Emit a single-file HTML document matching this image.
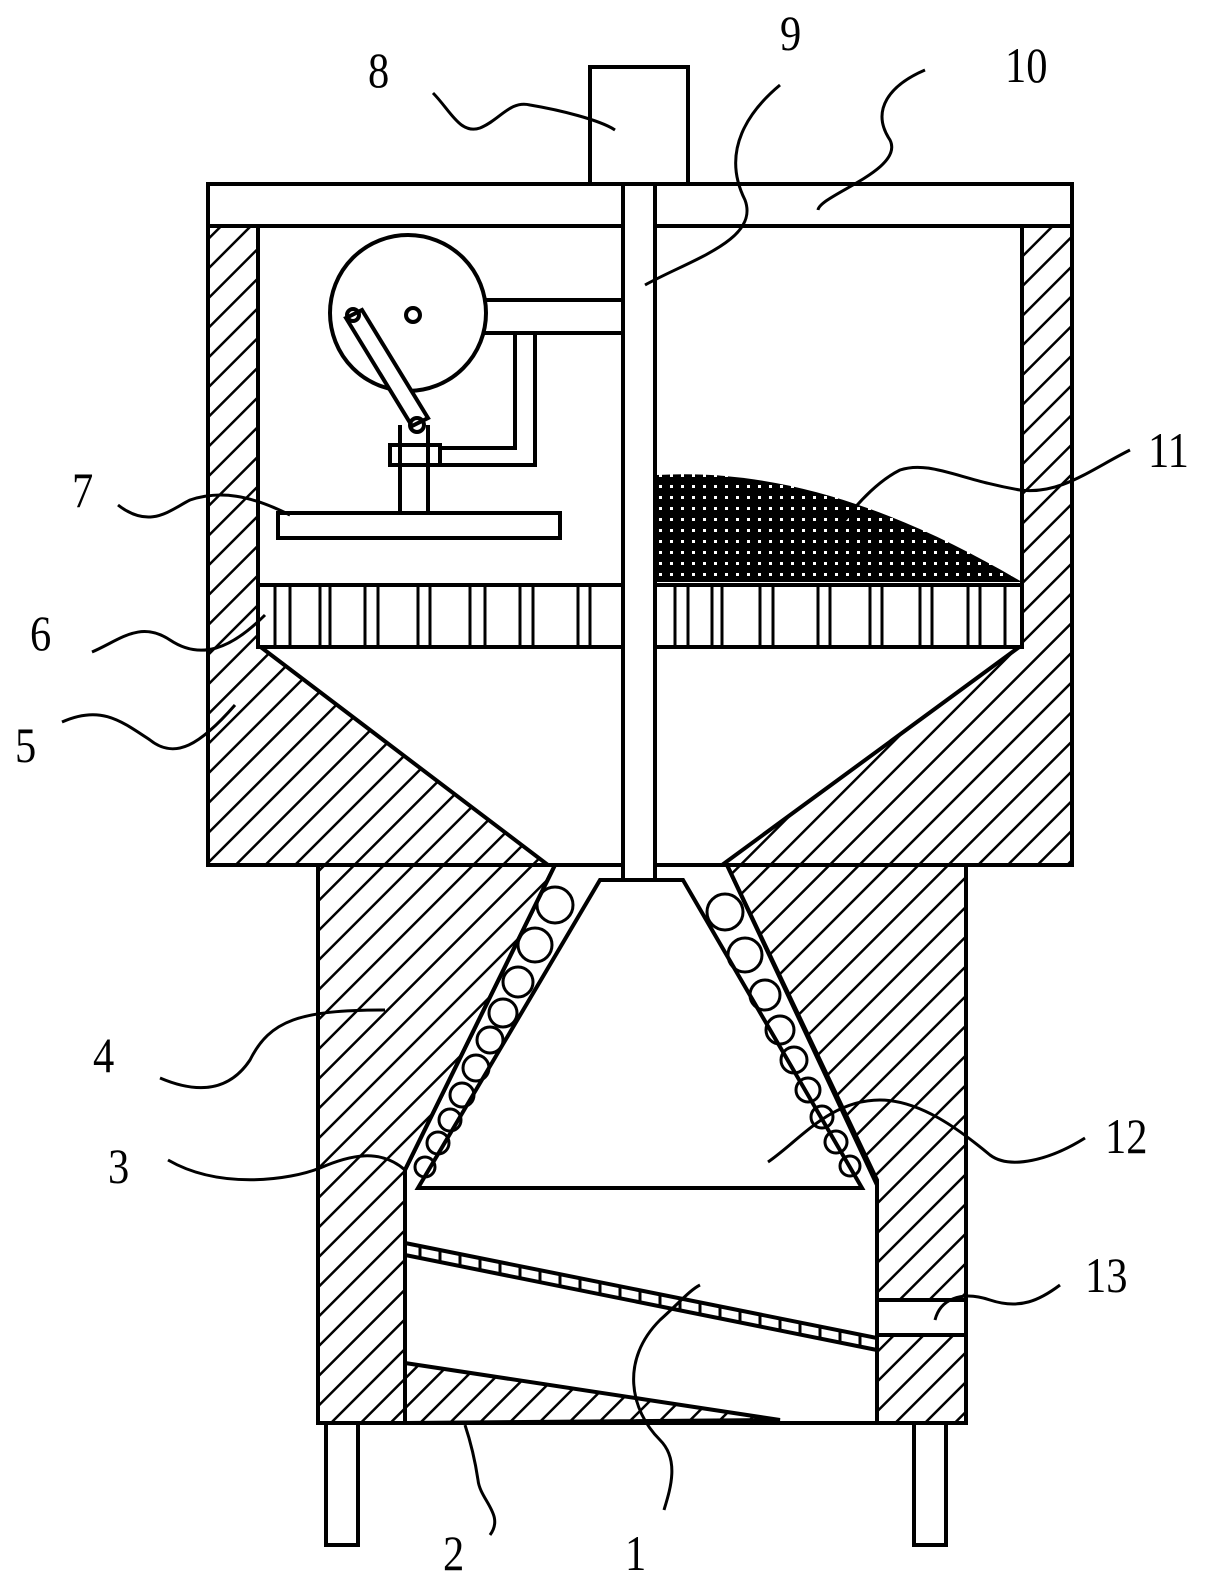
<!DOCTYPE html>
<html><head><meta charset="utf-8"><style>
html,body{margin:0;padding:0;background:#fff}
svg{display:block}
text{font-family:"Liberation Serif",serif;font-size:50px;fill:#000}
</style></head><body>
<svg width="1217" height="1578" viewBox="0 0 1217 1578" xmlns="http://www.w3.org/2000/svg">
<defs>
<pattern id="h" patternUnits="userSpaceOnUse" width="21" height="21" patternTransform="rotate(45)">
<rect width="21" height="21" fill="#fff"/><line x1="0" y1="0" x2="0" y2="21" stroke="#000" stroke-width="5"/>
</pattern>
<pattern id="g" patternUnits="userSpaceOnUse" width="11" height="11" x="655" y="470">
<rect width="11" height="11" fill="#000"/><rect x="4" y="4" width="3" height="3" fill="#fff"/>
</pattern>
</defs>
<g stroke="#000" stroke-width="4" fill="none">
<rect x="590" y="67" width="98" height="117" fill="#fff"/>
<rect x="208" y="184" width="864" height="42" fill="#fff"/>
<polygon points="208,226 258,226 258,645 548,865 208,865" fill="url(#h)"/>
<polygon points="1022,226 1072,226 1072,865 722,865 1022,645" fill="url(#h)"/>
<polygon points="318,865 555,865 405,1170 405,1423 318,1423" fill="url(#h)"/>
<polygon points="727,865 966,865 966,1423 877,1423 877,1180" fill="url(#h)"/>
<polygon points="405,1363 780,1420 405,1423" fill="url(#h)"/>
<rect x="877" y="1300" width="89" height="35" fill="#fff"/>
<rect x="318" y="865" width="648" height="558"/>
<rect x="326" y="1423" width="32" height="122"/>
<rect x="914" y="1423" width="32" height="122"/>
<path d="M657,475 C780,468 900,510 1022,582 L657,582 Z" fill="url(#g)" stroke="none"/>
<rect x="258" y="585" width="764" height="62" fill="#fff"/>
<g stroke-width="3">
<path d="M275,585v62M290,585v62M320,585v62M330,585v62M365,585v62M378,585v62M418,585v62M430,585v62M470,585v62M485,585v62M520,585v62M533,585v62M578,585v62M590,585v62M640,585v62M675,585v62M688,585v62M712,585v62M722,585v62M760,585v62M773,585v62M818,585v62M830,585v62M870,585v62M882,585v62M920,585v62M932,585v62M968,585v62M980,585v62M1005,585v62"/>
</g>
<rect x="623" y="184" width="32" height="696" fill="#fff"/>
<polygon points="600,880 683,880 862,1188 418,1188" fill="#fff"/>
<line x1="555" y1="865" x2="405" y2="1170"/>
<line x1="727" y1="865" x2="877" y2="1185"/>
<g stroke-width="3">
<circle cx="555" cy="905" r="18"/><circle cx="535" cy="945" r="17"/><circle cx="518" cy="982" r="15"/><circle cx="503" cy="1013" r="14"/><circle cx="490" cy="1040" r="13"/><circle cx="476" cy="1068" r="13"/><circle cx="462" cy="1095" r="12"/><circle cx="450" cy="1120" r="11"/><circle cx="438" cy="1143" r="11"/><circle cx="425" cy="1167" r="10"/>
<circle cx="725" cy="912" r="18"/><circle cx="745" cy="955" r="17"/><circle cx="765" cy="995" r="15"/><circle cx="780" cy="1030" r="14"/><circle cx="794" cy="1060" r="13"/><circle cx="808" cy="1090" r="12"/><circle cx="822" cy="1117" r="11"/><circle cx="836" cy="1142" r="11"/><circle cx="850" cy="1166" r="10"/>
</g>
<polygon points="405,1243 877,1338 877,1350 405,1255" fill="#fff"/>
<g stroke-width="3"><path d="M420,1246v12M440,1250v12M460,1254v12M480,1258v12M500,1262v12M520,1266v12M540,1270v12M560,1274v12M580,1278v12M600,1282v12M620,1286v12M640,1290v12M660,1294v12M680,1298v12M700,1302v12M720,1306v12M740,1310v12M760,1314v12M780,1318v12M800,1322v12M820,1326v12M840,1330v12M860,1334v12"/></g>
<circle cx="408" cy="313" r="78" fill="#fff"/>
<circle cx="413" cy="315" r="7"/>
<path d="M484,300 H623 M484,333 H623"/>
<path d="M515,333 V448 H440 M535,333 V465 H440"/>
<polygon points="346,318 362,310 428,418 412,426" fill="#fff"/>
<circle cx="353" cy="315" r="6"/>
<circle cx="417" cy="425" r="7"/>
<path d="M400,425 V513 M428,425 V513"/>
<rect x="390" y="445" width="50" height="20" fill="none"/>
<rect x="278" y="513" width="282" height="25" fill="#fff"/>
<g stroke-width="3">
<path d="M433,93 C450,110 460,135 480,128 C500,120 510,100 530,105 C560,110 600,120 615,130"/>
<path d="M780,85 C750,110 720,150 745,200 C760,240 690,260 645,285"/>
<path d="M925,70 C890,85 870,110 890,140 C905,170 820,195 818,210"/>
<path d="M1130,450 C1090,470 1060,495 1020,490 C960,480 930,460 900,470 C880,480 860,500 845,520"/>
<path d="M118,505 C150,530 170,510 190,500 C220,490 250,495 290,515"/>
<path d="M92,652 C120,640 140,620 170,640 C200,660 230,650 265,615"/>
<path d="M62,722 C100,705 120,720 150,740 C175,760 200,745 235,705"/>
<path d="M160,1078 C200,1095 230,1090 250,1060 C270,1020 300,1010 385,1010"/>
<path d="M168,1160 C220,1190 290,1180 320,1168 C350,1155 380,1148 405,1170"/>
<path d="M1085,1138 C1050,1160 1010,1170 990,1155 C960,1130 920,1100 880,1100 C830,1100 800,1140 768,1162"/>
<path d="M1060,1285 C1040,1300 1020,1310 990,1300 C960,1290 940,1300 935,1320"/>
<path d="M490,1535 C505,1515 480,1500 478,1480 C475,1460 470,1440 465,1425"/>
<path d="M664,1510 C670,1490 680,1460 660,1440 C630,1410 620,1360 660,1320 C680,1302 690,1290 700,1285"/>
</g>
</g>
<g>
<text x="368" y="87" transform="translate(368 87) scale(0.85 1) translate(-368 -87)">8</text>
<text x="780" y="50" transform="translate(780 50) scale(0.85 1) translate(-780 -50)">9</text>
<text x="1005" y="82" transform="translate(1005 82) scale(0.85 1) translate(-1005 -82)">10</text>
<text x="1148" y="467" transform="translate(1148 467) scale(0.85 1) translate(-1148 -467)">11</text>
<text x="72" y="507" transform="translate(72 507) scale(0.85 1) translate(-72 -507)">7</text>
<text x="30" y="650" transform="translate(30 650) scale(0.85 1) translate(-30 -650)">6</text>
<text x="15" y="762" transform="translate(15 762) scale(0.85 1) translate(-15 -762)">5</text>
<text x="93" y="1072" transform="translate(93 1072) scale(0.85 1) translate(-93 -1072)">4</text>
<text x="108" y="1183" transform="translate(108 1183) scale(0.85 1) translate(-108 -1183)">3</text>
<text x="1105" y="1153" transform="translate(1105 1153) scale(0.85 1) translate(-1105 -1153)">12</text>
<text x="1085" y="1292" transform="translate(1085 1292) scale(0.85 1) translate(-1085 -1292)">13</text>
<text x="443" y="1570" transform="translate(443 1570) scale(0.85 1) translate(-443 -1570)">2</text>
<text x="625" y="1570" transform="translate(625 1570) scale(0.85 1) translate(-625 -1570)">1</text>
</g>
</svg>
</body></html>
